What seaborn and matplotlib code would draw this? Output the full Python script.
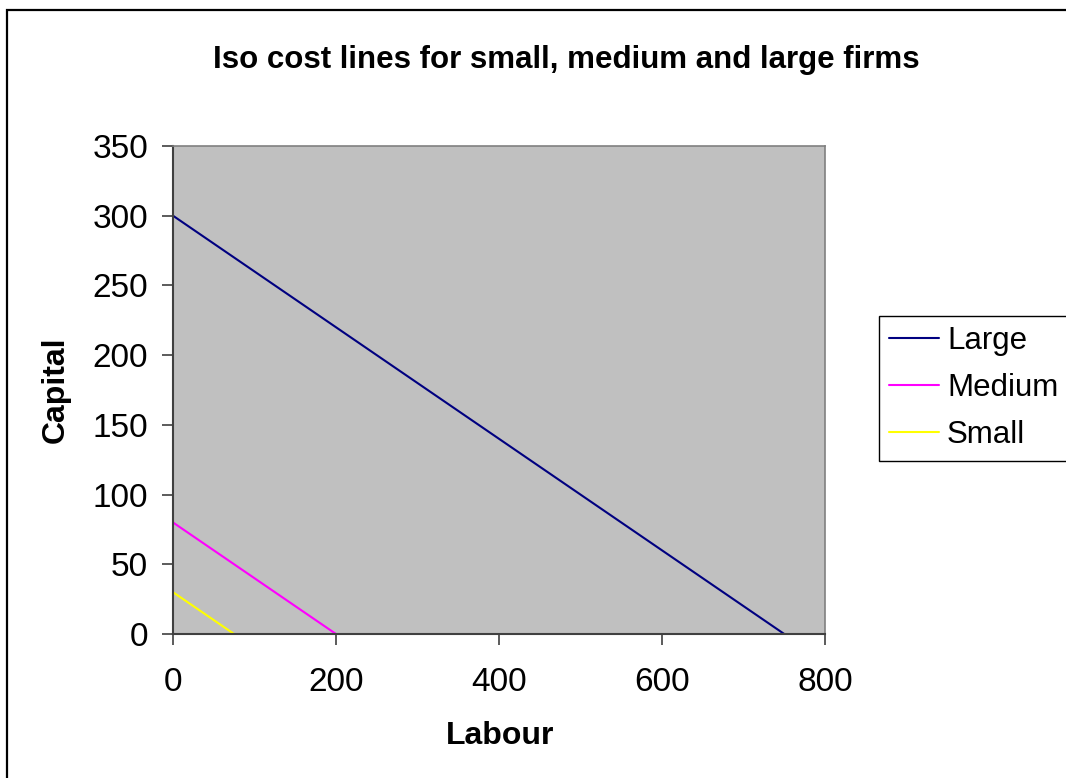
import matplotlib
matplotlib.use("Agg")
import matplotlib.pyplot as plt
from matplotlib.patches import Rectangle
import seaborn as sns
import pandas as pd

# Iso cost line endpoints (labour, capital) for each firm size
firm_sizes = ["Large", "Medium", "Small"]
labour_large = [0, 750]
capital_large = [300, 0]
labour_medium = [0, 200]
capital_medium = [80, 0]
labour_small = [0, 75]
capital_small = [30, 0]
line_colors = ["#000080", "#FF00FF", "#FFFF00"]
x_ticks = [0, 200, 400, 600, 800]
y_ticks = [0, 50, 100, 150, 200, 250, 300, 350]

df = pd.concat([
    pd.DataFrame({"Labour": labour_large, "Capital": capital_large, "Firm": "Large"}),
    pd.DataFrame({"Labour": labour_medium, "Capital": capital_medium, "Firm": "Medium"}),
    pd.DataFrame({"Labour": labour_small, "Capital": capital_small, "Firm": "Small"}),
], ignore_index=True)

sns.set_theme(style="white")
plt.rcParams["font.family"] = ["Liberation Sans", "DejaVu Sans"]
plt.rcParams["text.color"] = "black"
plt.rcParams["xtick.color"] = "black"
plt.rcParams["ytick.color"] = "black"

W, H = 1066, 778
fig = plt.figure(figsize=(W / 100, H / 100), dpi=100)
ax = fig.add_axes([173 / W, 1 - 634 / H, (825 - 173) / W, (634 - 146) / H])
ax.set_facecolor("#C0C0C0")

sns.lineplot(data=df, x="Labour", y="Capital", hue="Firm", hue_order=firm_sizes,
             palette=dict(zip(firm_sizes, line_colors)), linewidth=1.5,
             estimator=None, sort=False, ax=ax)

ax.set_xlim(0, 800)
ax.set_ylim(0, 350)
ax.set_xticks(x_ticks)
ax.set_yticks(y_ticks)
ax.tick_params(axis="both", which="major", direction="out", length=8,
               width=1.2, color="#404040", labelcolor="black", labelsize=24,
               bottom=True, left=True)
ax.tick_params(axis="x", pad=16)
ax.tick_params(axis="y", pad=10)
for side in ["top", "right"]:
    ax.spines[side].set_color("#808080")
    ax.spines[side].set_linewidth(1.2)
for side in ["left", "bottom"]:
    ax.spines[side].set_color("#404040")
    ax.spines[side].set_linewidth(1.5)

ax.set_xlabel("")
ax.set_ylabel("")
fig.text(500 / W, 1 - 736 / H, "Labour", fontsize=23, fontweight="bold",
         ha="center", va="center")
fig.text(56 / W, 1 - 390 / H, "Capital", fontsize=23, fontweight="bold",
         ha="center", va="center", rotation=90)
fig.text(566 / W, 1 - 60 / H, "Iso cost lines for small, medium and large firms",
         fontsize=22.5, fontweight="bold", ha="center", va="center")

ax.get_legend().remove()
handles, labels = ax.get_legend_handles_labels()
leg = fig.legend(handles, labels, loc="upper left",
                 bbox_to_anchor=(879 / W, 1 - 316 / H), bbox_transform=fig.transFigure,
                 fontsize=22.5, frameon=True, fancybox=False, framealpha=1,
                 handlelength=1.6, handletextpad=0.25, labelspacing=0.545,
                 borderpad=0.33, borderaxespad=0)
leg.get_frame().set_edgecolor("#000000")
leg.get_frame().set_linewidth(1.0)
for line in leg.get_lines():
    line.set_linewidth(1.5)

# outer chart border
fig.patches.append(Rectangle((7 / W, -0.05), 1.1, 1 - 10 / H + 0.05,
                             transform=fig.transFigure, fill=False,
                             edgecolor="black", linewidth=1.6))

fig.savefig("out.png", dpi=100)
